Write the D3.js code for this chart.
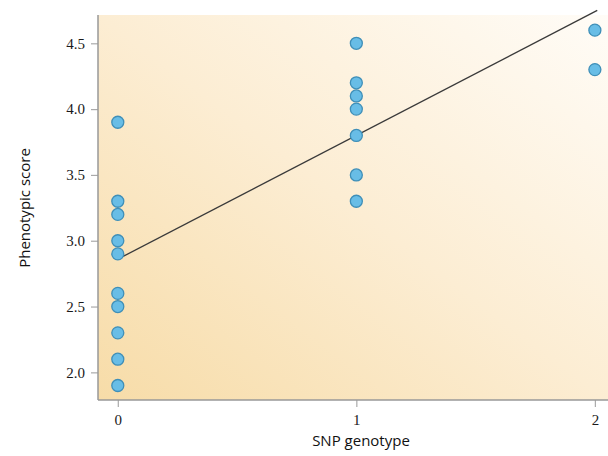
<!DOCTYPE html>
<html>
<head>
<meta charset="utf-8">
<script src="https://cdn.jsdelivr.net/npm/d3@7"></script>
<style>
  body { margin: 0; background: #fff; }
  svg { display: block; }
</style>
</head>
<body>
<div id="chart"></div>
<script>
// genotype groups and the phenotypic scores
var genotypes = [0, 1, 2];
var scores0 = [3.9, 3.3, 3.2, 3.0, 2.9, 2.6, 2.5, 2.3, 2.1, 1.9];
var scores1 = [4.5, 4.2, 4.1, 4.0, 3.8, 3.5, 3.3];
var scores2 = [4.6, 4.3];
var yTicks = [2.0, 2.5, 3.0, 3.5, 4.0, 4.5];
// fitted line end points (genotype, score)
var fitLine = [[0, 2.86], [2.01, 4.75]];

var width = 608, height = 456;
// note: "top" is taken by window.top, so use plot* names
var plotLeft = 98, plotRight = 608, plotTop = 15, plotBottom = 400;

var svg = d3.select("#chart").append("svg")
    .attr("width", width)
    .attr("height", height);

var x = d3.scaleLinear().domain([-0.083, 2.055]).range([plotLeft, plotRight]);
var y = d3.scaleLinear().domain([1.79, 4.715]).range([plotBottom, plotTop]);

// background wash, warm at bottom left, nearly white at top right
var defs = svg.append("defs");
var grad = defs.append("linearGradient")
    .attr("id", "bg")
    .attr("x1", "0").attr("y1", "1")
    .attr("x2", "1").attr("y2", "0");
grad.append("stop").attr("offset", "0").attr("stop-color", "#f7dca8");
grad.append("stop").attr("offset", "0.5").attr("stop-color", "#fcedd3");
grad.append("stop").attr("offset", "1").attr("stop-color", "#fffcf7");

svg.append("rect")
    .attr("x", plotLeft).attr("y", plotTop)
    .attr("width", plotRight - plotLeft).attr("height", plotBottom - plotTop)
    .attr("fill", "url(#bg)");

// axes
var yAxis = d3.axisLeft(y).tickValues(yTicks).tickFormat(d3.format(".1f")).tickSize(7).tickPadding(6);
var xAxis = d3.axisBottom(x).tickValues(genotypes).tickFormat(d3.format("d")).tickSize(7).tickPadding(7);

var gy = svg.append("g").attr("transform", "translate(" + plotLeft + ",0)").call(yAxis);
var gx = svg.append("g").attr("transform", "translate(0," + plotBottom + ")").call(xAxis);

[gx, gy].forEach(function (g) {
    g.select(".domain").remove();
    g.selectAll(".tick line").attr("stroke", "#aaa").attr("stroke-width", 1.2);
    g.selectAll(".tick text")
        .attr("fill", "#1a1a1a")
        .style("font-family", "'Liberation Serif', serif")
        .style("font-size", "15px");
});

svg.append("line")
    .attr("x1", plotLeft).attr("x2", plotLeft)
    .attr("y1", plotTop).attr("y2", plotBottom)
    .attr("stroke", "#999").attr("stroke-width", 1.5);
svg.append("line")
    .attr("x1", plotLeft).attr("x2", plotRight)
    .attr("y1", plotBottom).attr("y2", plotBottom)
    .attr("stroke", "#999").attr("stroke-width", 1.5);

// fitted line
svg.append("line")
    .attr("x1", x(fitLine[0][0])).attr("y1", y(fitLine[0][1]))
    .attr("x2", x(fitLine[1][0])).attr("y2", y(fitLine[1][1]))
    .attr("stroke", "#3a3a3a").attr("stroke-width", 1.3);

// points
var points = [];
[scores0, scores1, scores2].forEach(function (arr, i) {
    arr.forEach(function (v) { points.push({ g: genotypes[i], v: v }); });
});

svg.append("g").selectAll("circle")
    .data(points)
    .enter().append("circle")
    .attr("cx", function (d) { return x(d.g); })
    .attr("cy", function (d) { return y(d.v); })
    .attr("r", 6)
    .attr("fill", "#68bde6")
    .attr("stroke", "#3f8fb8")
    .attr("stroke-width", 1.3);

// axis titles
svg.append("text")
    .attr("x", 361).attr("y", 446)
    .attr("text-anchor", "middle")
    .attr("fill", "#111")
    .style("font-family", "'Open Sans', 'DejaVu Sans', sans-serif")
    .style("font-size", "15px")
    .text("SNP genotype");

svg.append("text")
    .attr("transform", "translate(30,208) rotate(-90)")
    .attr("text-anchor", "middle")
    .attr("fill", "#111")
    .style("font-family", "'Open Sans', 'DejaVu Sans', sans-serif")
    .style("font-size", "15px")
    .text("Phenotypic score");
</script>
</body>
</html>
